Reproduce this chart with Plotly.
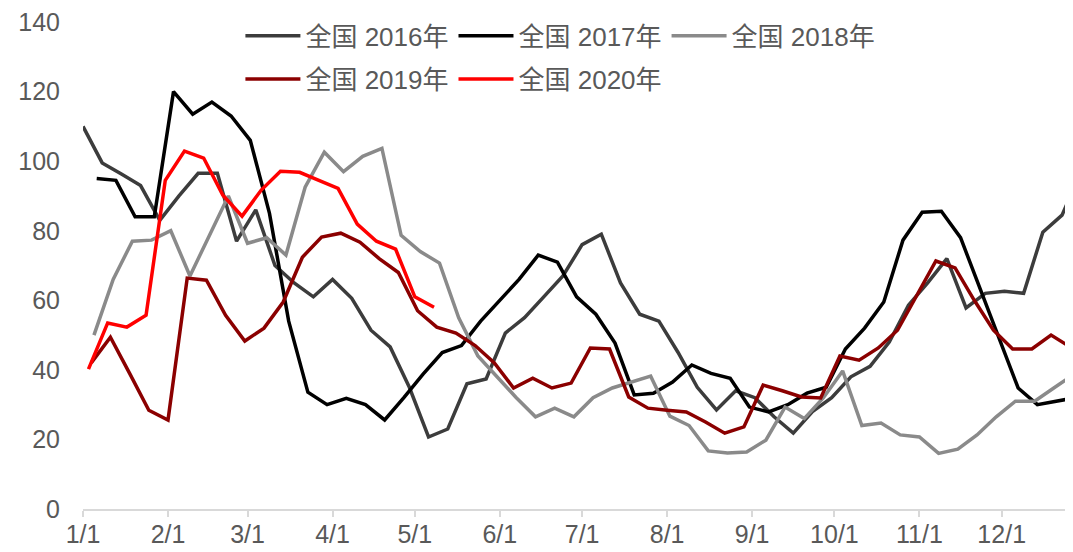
import plotly.graph_objects as go

# Day-of-year (0 = 1/1) of first weekly observation for each year
start_day = {"2016": 0, "2017": 5, "2018": 4, "2019": 3, "2020": 2}

v2016 = [110, 99.5, 96.3, 93, 83, 90, 96.5, 96.5, 77, 86, 70, 65, 61, 66, 60.6, 51.4, 46.6, 35,
         20.7, 23, 36, 37.4, 50.6, 55, 61, 67, 76, 79, 65, 56, 54, 45, 35, 28.5, 34, 32, 26.5,
         21.8, 28, 32, 38, 41, 48, 58.6, 65, 72, 57.8, 62, 62.6, 62, 79.6, 84.5, 97]
v2017 = [95, 94.5, 84, 84, 120, 113.5, 117, 113, 106, 85, 54, 33.6, 30, 31.8, 30, 25.6, 32, 38.8,
         45, 47, 54, 60, 66, 73, 71, 61, 56, 47.7, 32.8, 33.3, 36.5, 41.4, 39, 37.6, 29.3, 27.9,
         30, 33.3, 35, 46, 52, 59.5, 77.3, 85.3, 85.6, 78, 63.8, 49, 34.8, 30, 31, 32]
v2018 = [50, 66, 77, 77.3, 80, 67, 78.5, 90, 76.4, 78, 73, 92.5, 102.6, 97, 101.4, 103.7, 78.7,
         74, 70.7, 55, 44, 38, 32, 26.5, 29, 26.5, 32, 34.8, 36.5, 38.2, 26.7, 24, 16.7, 16.1,
         16.4, 19.8, 29.3, 26, 32, 39.7, 24, 24.7, 21.3, 20.7, 16, 17.2, 21.3, 26.5, 31, 31,
         34.8, 38.5]
v2019 = [42, 49.4, 39, 28.4, 25.6, 66.4, 65.8, 55.7, 48.3, 52, 59.5, 72.4, 78.2, 79.3, 76.7, 72,
         68, 57, 52.3, 50.6, 47, 42, 34.8, 37.6, 34.8, 36.2, 46.3, 46, 32.2, 29, 28.4, 27.9, 25,
         21.8, 23.6, 35.6, 34, 32.2, 31.9, 44, 42.8, 46.3, 51.4, 61.5, 71.3, 69.3, 60, 51.4, 46,
         46, 50, 46.6]
v2020 = [40.2, 53.5, 52.3, 55.7, 94.5, 102.9, 100.9, 90.2, 84.2, 91.7, 97.1, 96.8, 94.5, 92.2,
         81.9, 77, 74.7, 61, 58]

series_names = ["全国 2016年", "全国 2017年", "全国 2018年", "全国 2019年", "全国 2020年"]
series_keys = ["2016", "2017", "2018", "2019", "2020"]
series_vals = [v2016, v2017, v2018, v2019, v2020]
series_colors = ["#3c3c3c", "#000000", "#8a8a8a", "#8b0000", "#ff0000"]
series_legend = ["legend", "legend", "legend", "legend2", "legend2"]

tick_days = [0, 31, 60, 91, 121, 152, 182, 213, 244, 274, 305, 335]
tick_text = ["1/1", "2/1", "3/1", "4/1", "5/1", "6/1", "7/1", "8/1", "9/1", "10/1", "11/1", "12/1"]
y_ticks = [0, 20, 40, 60, 80, 100, 120, 140]

FONT = "Arial, 'Liberation Sans', 'Noto Sans CJK SC', sans-serif"
TXT = "#595959"

fig = go.Figure()
for name, key, vals, col, lg in zip(series_names, series_keys, series_vals, series_colors, series_legend):
    xs = [start_day[key] + 7 * i for i in range(len(vals))]
    fig.add_trace(go.Scatter(x=xs, y=vals, mode="lines", name=name, legend=lg,
                             line=dict(color=col, width=3.5)))

legend_common = dict(orientation="h", xanchor="left", yanchor="top",
                     font=dict(family=FONT, size=26, color=TXT),
                     itemwidth=55, bgcolor="rgba(0,0,0,0)", borderwidth=0)

# body of the page has an 8px margin, so the figure is 8px smaller than the window
fig.update_layout(
    width=1065, height=544,
    margin=dict(l=75, r=0, t=14, b=43),
    plot_bgcolor="white", paper_bgcolor="white",
    font=dict(family=FONT, size=25, color=TXT),
    showlegend=True,
    legend=dict(x=0.159, y=1.02, **legend_common),
    legend2=dict(x=0.159, y=0.931, **legend_common),
    xaxis=dict(range=[0, 361], tickmode="array", tickvals=tick_days, ticktext=tick_text,
               showgrid=False, zeroline=False, showline=True, linecolor="#d9d9d9", linewidth=1.5,
               ticks="outside", ticklen=6, tickcolor="#d9d9d9", tickwidth=1.5,
               ticklabelstandoff=-4,
               tickfont=dict(family=FONT, size=25, color=TXT)),
    yaxis=dict(range=[0, 140.02], tickmode="array", tickvals=y_ticks,
               showgrid=False, zeroline=False, showline=False, ticks="",
               ticklabelstandoff=22, ticklabeloverflow="allow",
               tickfont=dict(family=FONT, size=25, color=TXT)),
)

fig.write_html("out.html")
